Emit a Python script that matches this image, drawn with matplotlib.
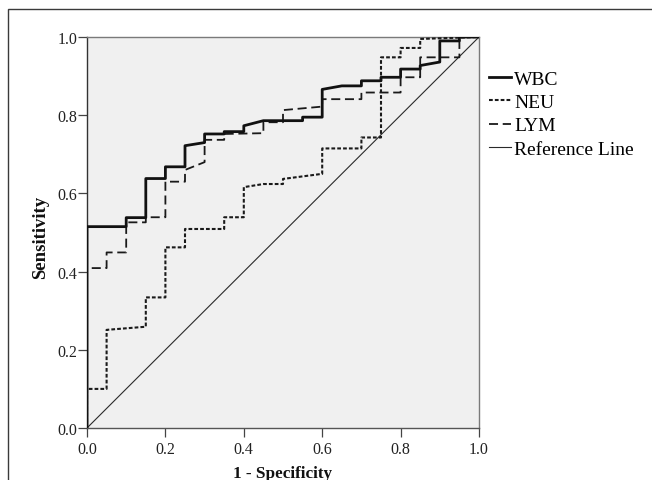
import matplotlib
matplotlib.use("Agg")
import matplotlib.pyplot as plt
from matplotlib.patches import Rectangle

# ---- data (1 - specificity, sensitivity) ----
wbc_fpr = [0.0, 0.0, 0.10, 0.10, 0.15, 0.15, 0.20, 0.20, 0.25, 0.25, 0.30, 0.30, 0.35, 0.35,
           0.40, 0.40, 0.45, 0.55, 0.55, 0.60, 0.60, 0.65, 0.70, 0.70, 0.75, 0.75, 0.80, 0.80,
           0.85, 0.85, 0.90, 0.90, 0.95, 0.95, 1.0]
wbc_tpr = [0.0, 0.515, 0.515, 0.538, 0.538, 0.638, 0.638, 0.668, 0.668, 0.722, 0.730, 0.752, 0.752, 0.758,
           0.758, 0.773, 0.786, 0.786, 0.795, 0.795, 0.866, 0.875, 0.875, 0.888, 0.888, 0.897, 0.897, 0.918,
           0.918, 0.927, 0.936, 0.990, 0.990, 1.0, 1.0]

neu_fpr = [0.0, 0.0, 0.05, 0.05, 0.15, 0.15, 0.20, 0.20, 0.25, 0.25, 0.35, 0.35, 0.40, 0.40,
           0.45, 0.50, 0.50, 0.60, 0.60, 0.70, 0.70, 0.75, 0.75, 0.80, 0.80, 0.85, 0.85, 1.0]
neu_tpr = [0.0, 0.100, 0.100, 0.251, 0.259, 0.334, 0.334, 0.462, 0.462, 0.509, 0.509, 0.539, 0.539, 0.616,
           0.624, 0.624, 0.637, 0.650, 0.715, 0.715, 0.743, 0.743, 0.948, 0.948, 0.972, 0.972, 0.995, 1.0]

lym_fpr = [0.0, 0.0, 0.05, 0.05, 0.10, 0.10, 0.15, 0.15, 0.20, 0.20, 0.25, 0.25, 0.30, 0.30,
           0.35, 0.35, 0.45, 0.45, 0.50, 0.50, 0.60, 0.60, 0.70, 0.70, 0.80, 0.80, 0.85, 0.85,
           0.95, 0.95, 1.0]
lym_tpr = [0.0, 0.409, 0.409, 0.449, 0.449, 0.526, 0.526, 0.539, 0.539, 0.630, 0.630, 0.660, 0.680, 0.737,
           0.737, 0.752, 0.754, 0.782, 0.782, 0.813, 0.822, 0.841, 0.841, 0.858, 0.858, 0.897, 0.897, 0.948,
           0.948, 1.0, 1.0]

ref_x = [0.0, 1.0]
ref_y = [0.0, 1.0]

ticks = [0.0, 0.2, 0.4, 0.6, 0.8, 1.0]
tick_labels = ["0.0", "0.2", "0.4", "0.6", "0.8", "1.0"]

plt.rcParams['font.family'] = ['Liberation Serif', 'DejaVu Serif']

W, H = 652, 481
fig = plt.figure(figsize=(W / 100, H / 100), dpi=100)
fig.patch.set_facecolor('white')

# outer frame (left and top edges visible)
fig.add_artist(Rectangle((8 / W, -0.1), 1.2, (H - 10) / H + 0.1, transform=fig.transFigure,
                         fill=False, edgecolor='#3a3a3a', linewidth=1.0))

ax = fig.add_axes([87 / W, (H - 429) / H, 392 / W, 391 / H])
ax.set_facecolor('#f0f0f0')

ln_ref, = ax.plot(ref_x, ref_y, color='#2a2a2a', linewidth=0.8, label='Reference Line', zorder=2)
ln_lym, = ax.plot(lym_fpr, lym_tpr, color='#1a1a1a', linewidth=1.3, dashes=(5.0, 2.6), label='LYM', zorder=3)
ln_neu, = ax.plot(neu_fpr, neu_tpr, color='#1a1a1a', linewidth=1.5, dashes=(1.8, 1.0), label='NEU', zorder=3)
ln_wbc, = ax.plot(wbc_fpr, wbc_tpr, color='#111111', linewidth=2.0, label='WBC', zorder=4)

ax.set_xlim(0, 1)
ax.set_ylim(0, 1)
ax.set_xticks(ticks)
ax.set_xticklabels(tick_labels)
ax.set_yticks(ticks)
ax.set_yticklabels(tick_labels)
ax.tick_params(axis='both', direction='out', length=6.5, width=0.9, color='#444444',
               labelsize=11.5, labelcolor='#222222')
ax.tick_params(axis='y', pad=0.5)
ax.tick_params(axis='x', pad=3)
for s in ['top', 'right', 'bottom', 'left']:
    ax.spines[s].set_color('#7a7a7a')
    ax.spines[s].set_linewidth(1.0)
ax.spines['left'].set_color('#333333')
ax.spines['bottom'].set_color('#555555')

ax.set_xlabel('1 - Specificity', fontsize=12.3, fontweight='bold', color='#111111')
ax.set_ylabel('Sensitivity', fontsize=13.5, fontweight='bold', color='#111111')
ax.xaxis.set_label_coords(0.5, -0.095)
ax.yaxis.set_label_coords(-0.098, 0.49)

fig.legend(handles=[ln_wbc, ln_neu, ln_lym, ln_ref],
           labels=['WBC', 'NEU', 'LYM', 'Reference Line'],
           loc='upper left', bbox_to_anchor=(489 / W, 1 - 71 / H),
           frameon=False, fontsize=14, handlelength=1.15, handletextpad=0.15,
           labelspacing=0.3, borderpad=0, borderaxespad=0)

fig.savefig('out.png', dpi=100, facecolor='white')
